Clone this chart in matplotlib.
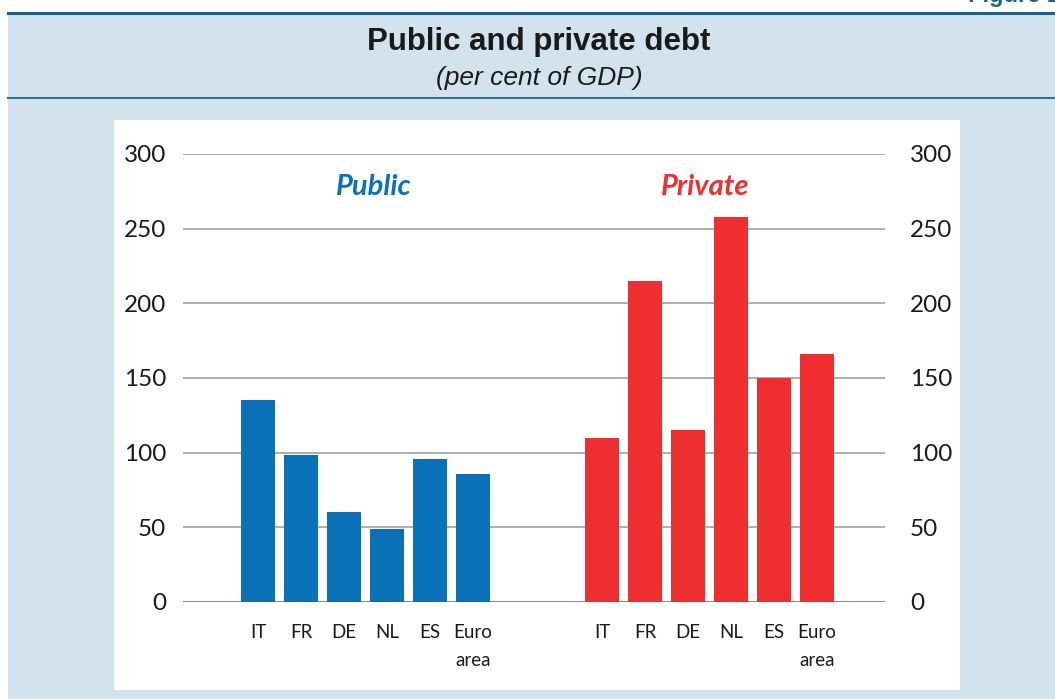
import matplotlib.pyplot as plt
from matplotlib.patches import Rectangle
from matplotlib.lines import Line2D

# data
countries = ["IT", "FR", "DE", "NL", "ES", "Euro\narea"]
public_debt = [135, 98.5, 60, 49, 96, 86]
private_debt = [110, 215, 115, 258, 150, 166]
yticks = [0, 50, 100, 150, 200, 250, 300]

W, H = 1055, 699
fig = plt.figure(figsize=(W / 100, H / 100), dpi=100)
fig.patch.set_facecolor("white")

def px(x, y):
    return x / W, 1 - y / H

# light blue panel, rules and white plot area
x0, y0 = px(8, 699)
fig.patches.append(Rectangle((x0, y0), 1 - x0, px(0, 14)[1] - y0, transform=fig.transFigure,
                             facecolor="#D2E3ED", edgecolor="none", zorder=0))
fig.lines.append(Line2D([px(8, 0)[0], 1], [px(0, 13)[1]] * 2, transform=fig.transFigure,
                        color="#1B6488", lw=2.2, zorder=1))
fig.lines.append(Line2D([px(8, 0)[0], 1], [px(0, 98)[1]] * 2, transform=fig.transFigure,
                        color="#2A7396", lw=1.5, zorder=1))
wx, wy = px(114, 690)
fig.patches.append(Rectangle((wx, wy), (960 - 114) / W, (690 - 120) / H, transform=fig.transFigure,
                             facecolor="white", edgecolor="none", zorder=1))

fig.text(px(1060, 0)[0], px(0, 7)[1], "Figure 1", ha="right", va="bottom", color="#1B6488",
         fontsize=17, fontweight="bold", family="Liberation Sans")
fig.text(0.511, px(0, 42)[1], "Public and private debt", ha="center", va="center",
         fontsize=22.5, fontweight="bold", family="Liberation Sans", color="#1a1a1a")
fig.text(0.511, px(0, 78)[1], "(per cent of GDP)", ha="center", va="center",
         fontsize=19, style="italic", family="Liberation Sans", color="#1a1a1a")

# chart axes
ax_l, ax_b = px(183, 602)
ax = fig.add_axes([ax_l, ax_b, (885 - 183) / W, (602 - 154) / H])
ax.set_facecolor("none")
ax.set_zorder(3)

pub_x = list(range(len(countries)))
priv_x = [i + 8 for i in range(len(countries))]
ax.bar(pub_x, public_debt, width=0.79, color="#0B71B9", zorder=3)
ax.bar(priv_x, private_debt, width=0.79, color="#EE2E2F", zorder=3)

ax.set_xlim(-1.744, 14.58)
ax.set_ylim(0, 300)
ax.set_yticks(yticks)
ax.set_yticklabels([str(v) for v in yticks], family="Lato", fontsize=17.5, color="#1a1a1a")
ax.yaxis.grid(True, color="#A8A8A8", lw=1.3, zorder=0)
ax.axhline(0, color="#8C8C8C", lw=1.5, zorder=2)
ax.set_xticks(pub_x + priv_x)
ax.set_xticklabels(countries + countries, family="Lato", fontsize=13.5, color="#1a1a1a",
                   linespacing=1.75)
ax.tick_params(axis="x", length=0, pad=16)
ax.tick_params(axis="y", length=0, pad=12)
for s in ax.spines.values():
    s.set_visible(False)

ax2 = ax.twinx()
ax2.set_ylim(0, 300)
ax2.set_yticks(yticks)
ax2.set_yticklabels([str(v) for v in yticks], family="Lato", fontsize=17.5, color="#1a1a1a")
ax2.tick_params(axis="y", length=0, pad=18)
for s in ax2.spines.values():
    s.set_visible(False)

ax.text(2.7, 278, "Public", color="#0B71B9", fontsize=21, fontweight="bold", style="italic",
        family="Lato", ha="center", va="center")
ax.text(10.4, 278, "Private", color="#EE2E2F", fontsize=21, fontweight="bold", style="italic",
        family="Lato", ha="center", va="center")

fig.savefig("out.png", dpi=100)
